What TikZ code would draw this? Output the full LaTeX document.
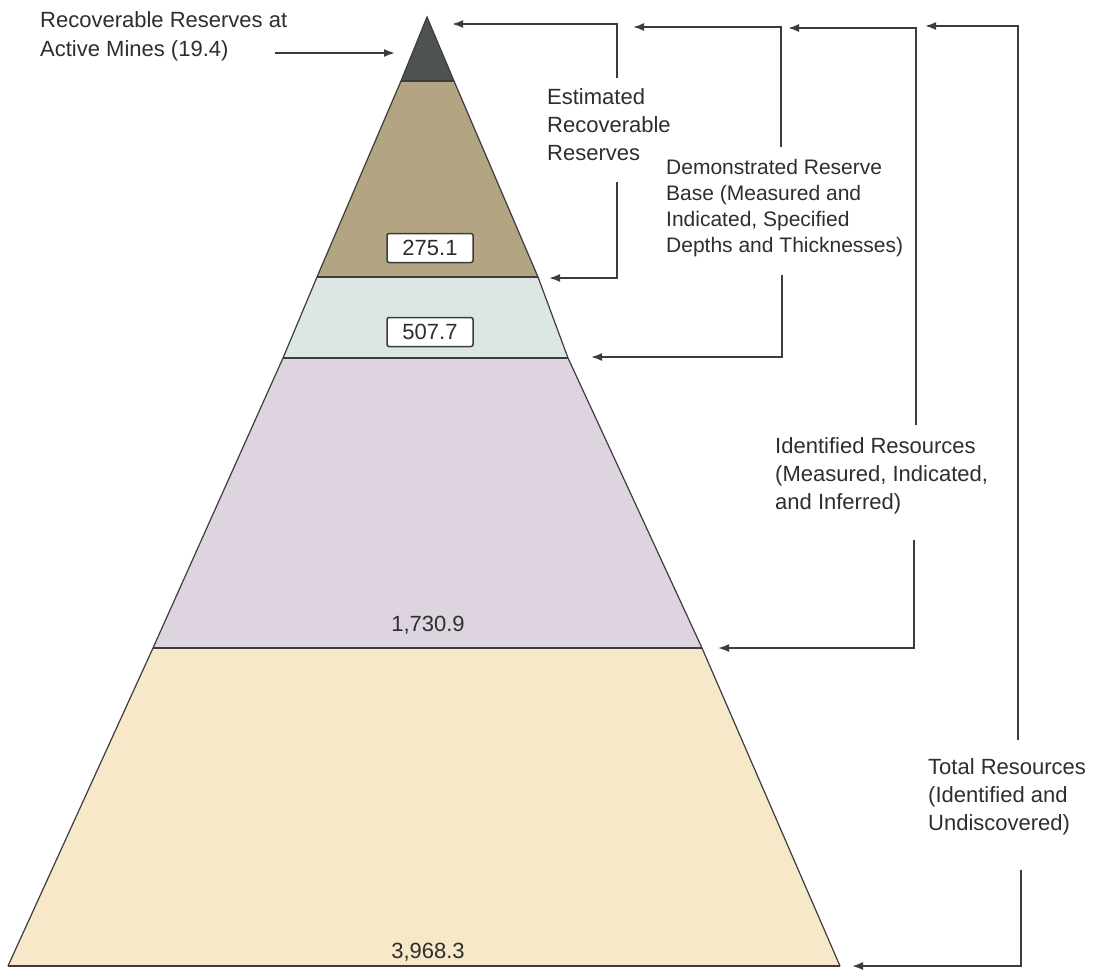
\documentclass[tikz,border=0pt]{standalone}
\usepackage{fontspec}
\setmainfont{Liberation Sans}
\usetikzlibrary{arrows.meta}
\definecolor{cTop}{HTML}{4D5350}
\definecolor{cBrown}{HTML}{B4A582}
\definecolor{cBlue}{HTML}{DCE6E5}
\definecolor{cPurple}{HTML}{DDD4DF}
\definecolor{cBeige}{HTML}{F7E8C9}
\definecolor{cInk}{HTML}{2E2E2E}
\definecolor{cLine}{HTML}{3C3C3C}
\begin{document}
\begin{tikzpicture}[x=1pt,y=-1pt,
  lbl/.style={inner sep=0pt,anchor=west,align=left,text=cInk,font=\fontsize{22}{29}\selectfont},
  lblsmall/.style={lbl,font=\fontsize{21}{26}\selectfont},
  numbox/.style={draw=cLine,line width=1.5pt,fill=white,rounded corners=2pt,minimum width=86pt,minimum height=29pt,inner sep=0pt,text=cInk,font=\fontsize{22}{25}\selectfont},
  num/.style={inner sep=0pt,text=cInk,font=\fontsize{22}{25}\selectfont},
  conn/.style={draw=cLine,line width=1.8pt,-{Latex[length=11pt,width=8pt]}},
  edge/.style={draw=cLine,line width=1.2pt},
  sep/.style={draw=cLine,line width=2.2pt}]
\useasboundingbox (0,0) rectangle (1100,969);
\fill[white] (0,0) rectangle (1100,969);
% pyramid corners
\coordinate (A) at (427,17);
\coordinate (L1) at (401,81);  \coordinate (R1) at (454,81);
\coordinate (L2) at (317,277); \coordinate (R2) at (538,277);
\coordinate (L3) at (283,358); \coordinate (R3) at (568,358);
\coordinate (L4) at (153,648); \coordinate (R4) at (702,648);
\coordinate (L5) at (8,966);   \coordinate (R5) at (840,966);
% bands
\fill[cTop] (A) -- (R1) -- (L1) -- cycle;
\fill[cBrown] (L1) -- (R1) -- (R2) -- (L2) -- cycle;
\fill[cBlue] (L2) -- (R2) -- (R3) -- (L3) -- cycle;
\fill[cPurple] (L3) -- (R3) -- (R4) -- (L4) -- cycle;
\fill[cBeige] (L4) -- (R4) -- (R5) -- (L5) -- cycle;
\draw[edge] (L5) -- (L4) -- (L3) -- (L2) -- (L1) -- (A) -- (R1) -- (R2) -- (R3) -- (R4) -- (R5);
\draw[sep] (L1) -- (R1);
\draw[sep] (L2) -- (R2);
\draw[sep] (L3) -- (R3);
\draw[sep] (L4) -- (R4);
\draw[sep] (L5) -- (R5);
% numbers
\node[numbox] (n1) at (430,248) {275.1};
\node[numbox] (n2) at (430,332) {507.7};
\node[num] (n3) at (428,625) {1,730.9};
\node[num] (n4) at (428,952) {3,968.3};
% labels
\node[lbl] (rr) at (40,36) {Recoverable Reserves at\\Active Mines (19.4)};
\node[lbl,font=\fontsize{22}{28}\selectfont] (est) at (547,125) {Estimated\\Recoverable\\Reserves};
\node[lblsmall] (dem) at (666,208) {Demonstrated Reserve\\Base (Measured and\\Indicated, Specified\\Depths and Thicknesses)};
\node[lbl,font=\fontsize{22}{28}\selectfont] (idr) at (775,476) {Identified Resources\\(Measured, Indicated,\\and Inferred)};
\node[lbl,font=\fontsize{22}{28}\selectfont] (tot) at (928,797) {Total Resources\\(Identified and\\Undiscovered)};
% connector endpoints
\coordinate (rrS) at (275,53);  \coordinate (rrT) at (395,53);
\coordinate (e1) at (617,78);   \coordinate (e1T) at (452,24);
\coordinate (e2) at (617,182);  \coordinate (e2T) at (549,278);
\coordinate (d1) at (781,147);  \coordinate (d1T) at (633,27);
\coordinate (d2) at (782,275);  \coordinate (d2T) at (591,357);
\coordinate (i1) at (916,425);  \coordinate (i1T) at (788,28);
\coordinate (i2) at (914,540);  \coordinate (i2T) at (718,648);
\coordinate (t1) at (1018,740); \coordinate (t1T) at (925,26);
\coordinate (t2) at (1021,870); \coordinate (t2T) at (852,966);
% connectors
\draw[conn] (rrS) -- (rrT);
\draw[conn] (e1) |- (e1T);
\draw[conn] (e2) |- (e2T);
\draw[conn] (d1) |- (d1T);
\draw[conn] (d2) |- (d2T);
\draw[conn] (i1) |- (i1T);
\draw[conn] (i2) |- (i2T);
\draw[conn] (t1) |- (t1T);
\draw[conn] (t2) |- (t2T);
\end{tikzpicture}
\end{document}
